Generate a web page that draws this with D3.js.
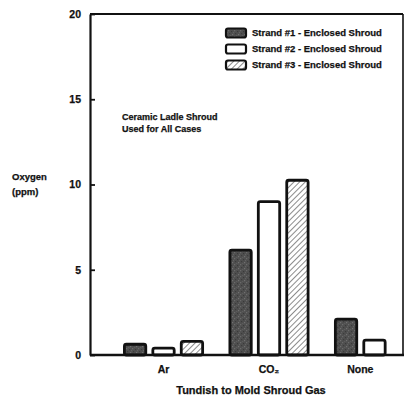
<!DOCTYPE html>
<html>
<head>
<meta charset="utf-8">
<script src="https://cdn.jsdelivr.net/npm/d3@7"></script>
<style>
  html, body { margin: 0; padding: 0; background: #fff; }
  svg { display: block; }
  text { font-family: "Liberation Sans", Arial, sans-serif; font-weight: bold; fill: #111; stroke: #111; stroke-width: 0.25px; }
</style>
</head>
<body>
<svg id="chart" width="406" height="397"></svg>
<script>
// ---- data ----
const categories = ["Ar", "CO2", "None"];
const categoryLabels = ["Ar", "CO₂", "None"];
const seriesNames = ["Strand #1 - Enclosed Shroud", "Strand #2 - Enclosed Shroud", "Strand #3 - Enclosed Shroud"];
const strand1 = [0.63, 6.15, 2.1];
const strand2 = [0.4, 9.0, 0.87];
const strand3 = [0.8, 10.25, null];
const yTicks = [0, 5, 10, 15, 20];
const yLabelLines = ["Oxygen", "(ppm)"];
const xTitle = "Tundish to Mold Shroud Gas";
const noteLines = ["Ceramic Ladle Shroud", "Used for All Cases"];

const seriesValues = [strand1, strand2, strand3];

const svg = d3.select("#chart");
const frame = { left: 90, right: 403, top: 14, bottom: 355 };

// patterns
const defs = svg.append("defs");
const stip = defs.append("pattern").attr("id", "stipple").attr("patternUnits", "userSpaceOnUse")
  .attr("width", 6).attr("height", 6);
stip.append("rect").attr("width", 6).attr("height", 6).attr("fill", "#4f4f4f");
[[0,0,"#6a6a6a"],[3,1,"#3a3a3a"],[1,3,"#3c3c3c"],[4,4,"#707070"],[2,5,"#5c5c5c"],[5,2,"#626262"]]
  .forEach(([x, y, c]) => stip.append("rect").attr("x", x).attr("y", y).attr("width", 1.2).attr("height", 1.2).attr("fill", c));

const hatch = defs.append("pattern").attr("id", "hatch").attr("patternUnits", "userSpaceOnUse")
  .attr("width", 4).attr("height", 4).attr("patternTransform", "rotate(45)");
hatch.append("rect").attr("width", 4).attr("height", 4).attr("fill", "#fff");
hatch.append("line").attr("x1", 0).attr("y1", 0).attr("x2", 0).attr("y2", 4)
  .attr("stroke", "#6f6f6f").attr("stroke-width", 1.6);

const fills = ["url(#stipple)", "#fff", "url(#hatch)"];

// scales
const y = d3.scaleLinear().domain([0, 20]).range([frame.bottom, frame.top]);
const x0 = d3.scaleBand().domain(categories).range([frame.left, 448]).paddingInner(0.232).paddingOuter(0.313);
const x1 = d3.scaleBand().domain(d3.range(seriesNames.length)).range([0, x0.bandwidth()]).paddingInner(0.15).paddingOuter(0);

// bars
const barData = [];
categories.forEach((c, ci) => {
  seriesValues.forEach((vals, si) => {
    if (vals[ci] != null) barData.push({ c, ci, si, v: vals[ci] });
  });
});
const sw = 2.8;
svg.append("g").selectAll("rect").data(barData).join("rect")
  .attr("x", d => x0(d.c) + x1(d.si) + sw / 2)
  .attr("y", d => y(d.v))
  .attr("width", x1.bandwidth() - sw)
  .attr("height", d => y(0) - y(d.v))
  .attr("rx", 2).attr("ry", 2)
  .attr("fill", d => fills[d.si])
  .attr("stroke", "#111").attr("stroke-width", sw);

// frame
const g = svg.append("g");
g.append("line").attr("x1", frame.left).attr("x2", frame.right).attr("y1", frame.top).attr("y2", frame.top)
  .attr("stroke", "#111").attr("stroke-width", 2);
g.append("line").attr("x1", frame.right).attr("x2", frame.right).attr("y1", frame.top).attr("y2", frame.bottom)
  .attr("stroke", "#111").attr("stroke-width", 1.6);

// y axis
const yAxis = d3.axisLeft(y).tickValues(yTicks).tickSize(-5).tickPadding(9).tickSizeOuter(0);
const ya = svg.append("g").attr("transform", `translate(${frame.left},0)`).call(yAxis);
ya.select(".domain").attr("stroke", "#111").attr("stroke-width", 2.2);
ya.selectAll(".tick line").attr("stroke", "#111").attr("stroke-width", 1.8);
ya.selectAll(".tick text").style("font-size", "10.5px").style("font-weight", "bold").attr("fill", "#111")
  .style("font-family", "'Liberation Sans', Arial, sans-serif");

// x axis baseline
svg.append("line").attr("x1", frame.left).attr("x2", frame.right + 1).attr("y1", y(0)).attr("y2", y(0))
  .attr("stroke", "#111").attr("stroke-width", 2.6);

// category labels centred on bars present
categories.forEach((c, ci) => {
  const present = barData.filter(d => d.ci === ci);
  const lo = x0(c) + x1(d3.min(present, d => d.si));
  const hi = x0(c) + x1(d3.max(present, d => d.si)) + x1.bandwidth();
  svg.append("text").attr("x", (lo + hi) / 2).attr("y", 373).attr("text-anchor", "middle")
    .style("font-size", "10.5px").text(categoryLabels[ci]);
});

// x title
svg.append("text").attr("x", 251).attr("y", 394).attr("text-anchor", "middle")
  .style("font-size", "11px").text(xTitle);

// y label
yLabelLines.forEach((t, i) => {
  svg.append("text").attr("x", 12).attr("y", 180 + i * 15).style("font-size", "9.5px").text(t);
});

// note
noteLines.forEach((t, i) => {
  svg.append("text").attr("x", 122).attr("y", 120 + i * 12).style("font-size", "9px").text(t);
});

// legend
const leg = svg.append("g");
seriesNames.forEach((n, i) => {
  const cy = 33 + i * 16;
  leg.append("rect").attr("x", 226).attr("y", cy - 4.5).attr("width", 20).attr("height", 9)
    .attr("rx", 2).attr("fill", fills[i]).attr("stroke", "#111").attr("stroke-width", 2.2);
  leg.append("text").attr("x", 252).attr("y", cy + 3.3).style("font-size", "9.5px").text(n);
});
</script>
</body>
</html>
